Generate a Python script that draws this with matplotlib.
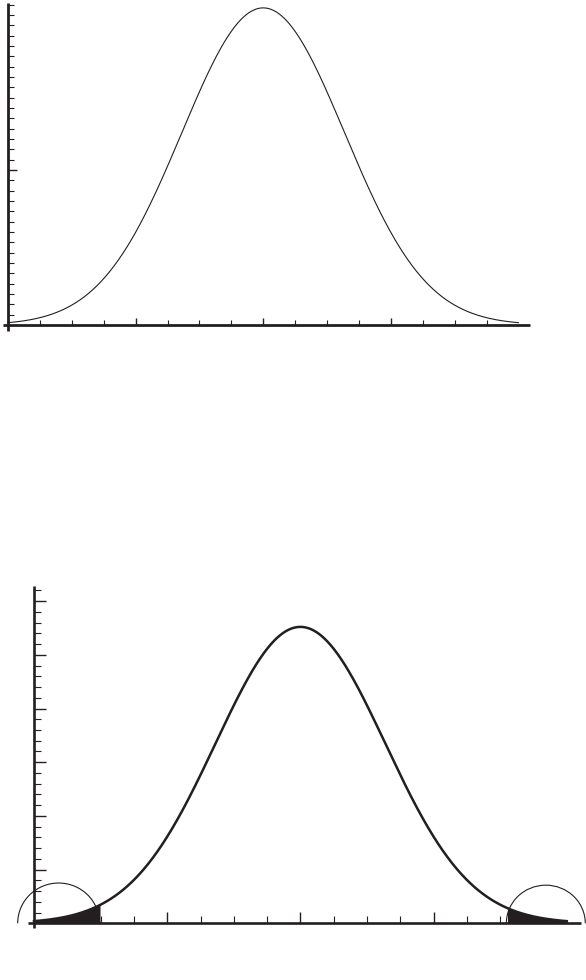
import numpy as np
import matplotlib
matplotlib.use('Agg')
import matplotlib.pyplot as plt
from matplotlib.patches import Arc
from matplotlib.ticker import FixedLocator

INK = '#231f20'
W, H = 586, 980

# ---- data (x and y expressed in tick units) ----
top_mean = 8.0
top_sd = 2.55
top_peak = 30.7
top_x_range = (0.0, 16.0)
top_xticks_minor = list(range(0, 16))
top_xticks_major = [0, 4, 8, 12]
top_yticks_minor = list(range(0, 32))
top_yticks_major = [15]

bot_mean = 8.0
bot_sd = 2.55
bot_peak = 27.6
bot_x_range = (0.0, 16.0)
bot_left_cut = 2.0
bot_right_cut = 14.2
bot_xticks_minor = list(range(0, 16))
bot_xticks_major = [4, 8, 12]
bot_yticks_minor = list(range(0, 32))
bot_yticks_major = [5, 10, 15, 20, 25, 30]

semi_centers = [0.74, 15.37]
semi_widths = [2.46, 2.37]
semi_heights = [7.5, 7.1]


def bell(x, mean, sd, peak):
    return peak * np.exp(-0.5 * ((x - mean) / sd) ** 2)


def px_axes(fig, left, top, right, bottom):
    return fig.add_axes([left / W, 1 - bottom / H, (right - left) / W, (bottom - top) / H])


def style_axes(ax, spine_lw, xmin, xmaj, ymin, ymaj, xl, yl):
    for s in ['top', 'right']:
        ax.spines[s].set_visible(False)
    for s in ['left', 'bottom']:
        ax.spines[s].set_position(('data', 0))
        ax.spines[s].set_linewidth(spine_lw)
        ax.spines[s].set_color(INK)
        ax.spines[s].set_capstyle('butt')
    ax.xaxis.set_major_locator(FixedLocator(xmaj))
    ax.xaxis.set_minor_locator(FixedLocator([v for v in xmin if v not in xmaj]))
    ax.yaxis.set_major_locator(FixedLocator(ymaj))
    ax.yaxis.set_minor_locator(FixedLocator([v for v in ymin if v not in ymaj]))
    ax.tick_params(axis='x', which='major', direction='in', length=xl[1], width=1.0, color=INK,
                   labelbottom=False)
    ax.tick_params(axis='x', which='minor', direction='in', length=xl[0], width=0.8, color=INK)
    ax.tick_params(axis='y', which='major', direction='in', length=yl[1], width=1.0, color=INK,
                   labelleft=False)
    ax.tick_params(axis='y', which='minor', direction='in', length=yl[0], width=0.8, color=INK)
    ax.patch.set_visible(False)


fig = plt.figure(figsize=(W / 100, H / 100), dpi=100)

# ---------------- top panel ----------------
ax1 = px_axes(fig, 3, 3, 530, 331)
sx1, sy1 = 31.9, 10.33
ax1.set_xlim(-5 / sx1, 522 / sx1)
ax1.set_ylim(-6 / sy1, 322 / sy1)
x1 = np.linspace(top_x_range[0], top_x_range[1], 600)
ax1.plot(x1, bell(x1, top_mean, top_sd, top_peak), color=INK, lw=0.8, clip_on=False)
style_axes(ax1, 2.0, top_xticks_minor, top_xticks_major, top_yticks_minor, top_yticks_major,
           (3.6, 5.4), (4.3, 6.5))

# ---------------- bottom panel ----------------
ax2 = px_axes(fig, 28, 586, 581, 928)
sx2, sy2 = 33.3, 10.74
ax2.set_xlim(-6 / sx2, 547 / sx2)
ax2.set_ylim(-4.7 / sy2, 337.3 / sy2)
x2 = np.linspace(bot_x_range[0], bot_x_range[1], 800)
y2 = bell(x2, bot_mean, bot_sd, bot_peak)
ax2.plot(x2, y2, color=INK, lw=1.8, clip_on=False, zorder=4)
ax2.fill_between(x2, 0, y2, where=x2 <= bot_left_cut, color=INK, lw=0, zorder=3)
ax2.fill_between(x2, 0, y2, where=x2 >= bot_right_cut, color=INK, lw=0, zorder=3)
for c, w, h in zip(semi_centers, semi_widths, semi_heights):
    ax2.add_patch(Arc((c, 0), w, h, theta1=0, theta2=180, color=INK, lw=0.8,
                      clip_on=False, zorder=4))
style_axes(ax2, 1.9, bot_xticks_minor, bot_xticks_major, bot_yticks_minor, bot_yticks_major,
           (4.9, 7.9), (4.8, 8.6))

fig.savefig('out.png', dpi=100)
